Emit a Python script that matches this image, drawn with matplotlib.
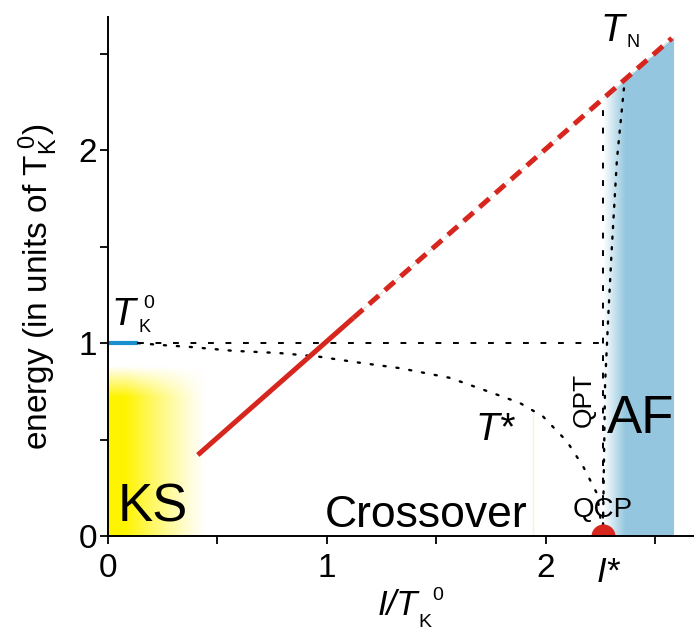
import numpy as np
import matplotlib
matplotlib.use("Agg")
import matplotlib.pyplot as plt
from matplotlib.patches import Polygon

plt.rcParams['font.family'] = ['Liberation Sans', 'DejaVu Sans']
plt.rcParams['mathtext.fontset'] = 'custom'
plt.rcParams['mathtext.rm'] = 'Liberation Sans'
plt.rcParams['mathtext.it'] = 'Liberation Sans:italic'

# data (x in I/T_K^0, y in T_K^0)
tn_solid_x = [0.41, 1.12]
tn_solid_y = [0.42, 1.13]
tn_dash_x = [1.12, 2.575]
tn_dash_y = [1.13, 2.58]

tstar_x = [0.137, 0.24, 0.374, 0.57, 0.785, 0.96, 1.137, 1.333, 1.56, 1.744,
           1.88, 1.986, 2.096, 2.17, 2.233, 2.26]
tstar_y = [1.0, 0.99, 0.98, 0.96, 0.948, 0.93, 0.90, 0.87, 0.82, 0.746,
           0.69, 0.62, 0.49, 0.36, 0.22, 0.0]

qpt_x = [2.26, 2.265, 2.27, 2.285, 2.30, 2.324, 2.356]
qpt_y = [0.0, 0.4, 0.79, 1.15, 1.48, 1.95, 2.32]

tk0 = 1.0
i_star = 2.26
tk_seg_x = [0.0, 0.137]
af_edge = 2.585
ks_edge = 0.45

fig = plt.figure(figsize=(6.94, 6.35), dpi=100)
ax = fig.add_axes([108/694, 1-536/635, (694-108)/694, (536-17)/635])
ax.set_xlim(0, 2.676)
ax.set_ylim(0, 2.69)

# yellow KS region (gradient to white)
nx_, ny_ = 200, 200
gx = np.linspace(0, ks_edge, nx_)
gy = np.linspace(0, 0.9, ny_)
fx = np.clip((ks_edge - gx) / (ks_edge - 0.08), 0, 1) ** 1.2
fy = np.clip((0.88 - gy) / (0.88 - 0.72), 0, 1)
alpha = np.outer(fy, fx)
img = np.zeros((ny_, nx_, 4))
img[..., 0] = 1.0
img[..., 1] = 0.96
img[..., 2] = 0.0
img[..., 3] = alpha
ax.imshow(img, extent=[0, ks_edge, 0, 0.9], origin='lower', aspect='auto',
          interpolation='bilinear', zorder=1)

# blue AF region under T_N line
bx = np.linspace(i_star, af_edge, 300)
fb = np.clip((bx - i_star) / 0.1, 0, 1)
bimg = np.zeros((2, bx.size, 4))
bimg[..., 0] = 0.584
bimg[..., 1] = 0.784
bimg[..., 2] = 0.878
bimg[..., 3] = fb
im_b = ax.imshow(bimg, extent=[i_star, af_edge, 0, af_edge], origin='lower',
                 aspect='auto', interpolation='bilinear', zorder=1)
clip = Polygon([(i_star, 0), (i_star, i_star), (af_edge, af_edge), (af_edge, 0)],
               closed=True, transform=ax.transData, facecolor='none', edgecolor='none')
ax.add_patch(clip)
im_b.set_clip_path(clip)

# faint edge line near Crossover
ax.plot([1.94, 1.94], [0, 0.64], color='#f4f4d8', lw=1.0, zorder=1)

# T_K^0 level
ax.plot(tk_seg_x, [tk0, tk0], color='#1a8fd0', lw=3.0, solid_capstyle='butt', zorder=3)
ax.plot([tk_seg_x[1], i_star], [tk0, tk0], color='black', lw=1.4,
        linestyle=(0, (3, 6)), zorder=3)
ax.plot([i_star, i_star], [0, i_star], color='black', lw=1.4,
        linestyle=(0, (3, 6)), zorder=3)

# T* crossover and QPT line
ax.plot(tstar_x, tstar_y, color='black', lw=1.7, linestyle=(0, (0.9, 4.6)),
        dash_capstyle='round', zorder=3)
ax.plot(qpt_x, qpt_y, color='black', lw=1.7, linestyle=(0, (0.9, 3.6)),
        dash_capstyle='round', zorder=3)

# T_N line
ax.plot([tn_dash_x[0], tn_dash_x[1]], [tn_dash_y[0], tn_dash_y[1]], color='#dddddd',
        lw=0.8, linestyle=(0, (6, 4)), zorder=3)
ax.plot(tn_solid_x, tn_solid_y, color='#d7261e', lw=3.6, solid_capstyle='butt', zorder=4)
ax.plot(tn_dash_x, tn_dash_y, color='#d7261e', lw=3.6, linestyle=(0, (2.6, 1.6)), zorder=4)

# QCP dot
ax.scatter([i_star], [0], s=300, color='#d7261e', zorder=5, clip_on=True, linewidths=0)

# axes styling
for s in ['top', 'right']:
    ax.spines[s].set_visible(False)
for s in ['left', 'bottom']:
    ax.spines[s].set_linewidth(1.4)
    ax.spines[s].set_zorder(6)
ax.set_xticks([0, 1, 2])
ax.set_xticks([0.5, 1.5, 2.5], minor=True)
ax.set_yticks([0, 1, 2])
ax.set_yticks([0.5, 1.5, 2.5], minor=True)
ax.tick_params(which='both', direction='out', length=6, width=1.3, labelsize=24)
ax.tick_params(axis='x', pad=6)
ax.tick_params(axis='y', pad=2)

# region labels
ax.text(0.046, 0.073, 'KS', fontsize=38, ha='left', va='baseline', zorder=7)
ax.text(0.99, 0.047, 'Crossover', fontsize=32, ha='left', va='baseline', zorder=7)
ax.text(2.28, 0.535, 'AF', fontsize=38, ha='left', va='baseline', zorder=7)
ax.text(2.174, 0.707, 'QPT', fontsize=19, rotation=90, ha='center', va='center', zorder=7)
ax.text(2.123, 0.099, 'QCP', fontsize=20, ha='left', va='baseline', zorder=7)
ax.text(1.676, 0.499, 'T*', fontsize=28, style='italic', ha='left', va='baseline', zorder=7)

# T_K^0 marker
ax.text(0.018, 1.096, 'T', fontsize=28, style='italic', ha='left', va='baseline', zorder=7)
ax.text(0.137, 1.055, 'K', fontsize=13, ha='left', va='baseline', zorder=7)
ax.text(0.16, 1.184, '0', fontsize=14, ha='left', va='baseline', zorder=7)

# T_N marker
ax.text(2.25, 2.566, 'T', fontsize=28, style='italic', ha='left', va='baseline',
        zorder=7, clip_on=False)
ax.text(2.37, 2.535, 'N', fontsize=13, ha='left', va='baseline', zorder=7, clip_on=False)

# I* below axis
ax.text(2.233, -0.239, 'I*', fontsize=25, style='italic', ha='left', va='baseline',
        clip_on=False)

# x label
ax.text(1.233, -0.41, 'I/T', fontsize=25, style='italic', ha='left', va='baseline',
        clip_on=False)
ax.text(1.416, -0.473, 'K', fontsize=14, ha='left', va='baseline', clip_on=False)
ax.text(1.479, -0.332, '0', fontsize=14, ha='left', va='baseline', clip_on=False)

# y label
fig.text(38/694, 1-287/635, r'energy (in units of $\mathrm{T}_{\mathrm{K}}^{\ \mathrm{0}}$)',
         fontsize=24, rotation=90, ha='center', va='center')

fig.savefig('out.png', dpi=100)
